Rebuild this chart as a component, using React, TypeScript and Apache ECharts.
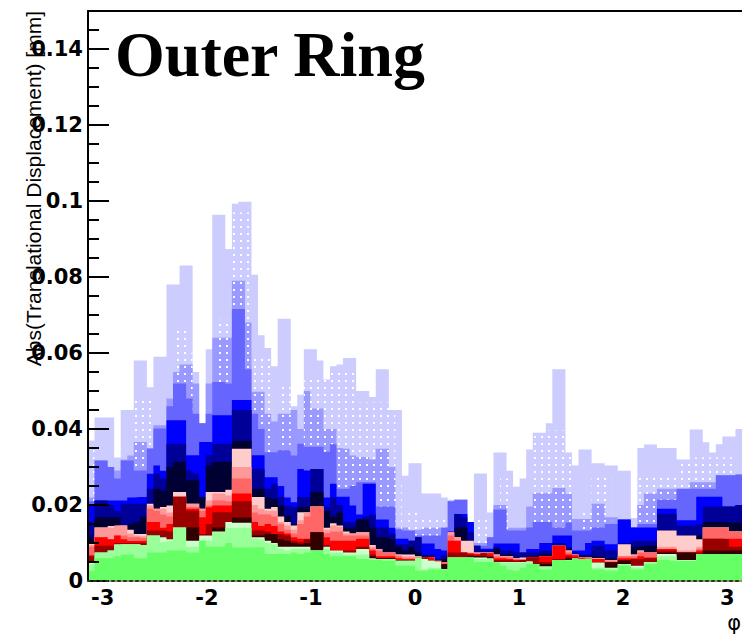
import React, { useEffect, useRef } from "react";
import * as echarts from "echarts";

// phi binning of the histograms: 100 bins over [-pi, pi]
const PHI_MIN = -Math.PI;
const PHI_MAX = Math.PI;
const N_BINS = 100;
const binEdges = Array.from({ length: N_BINS + 1 }, (_, i) => PHI_MIN + (i * (PHI_MAX - PHI_MIN)) / N_BINS);

const xTickValues = [-3, -2, -1, 0, 1, 2, 3];
const yMax = 0.15;
const yMajorStep = 0.02;
const yMinorStep = 0.005;
const titleText = "Outer Ring";
const yTitleText = "Abs(Translational Displacement) [mm]";
const xTitleText = "φ";

// Histogram contents (mm), back to front
const lavender = [0.037,0.043,0.043,0.043,0.0325,0.045,0.045,0.058,0.058,0.051,
0.059,0.059,0.078,0.078,0.083,0.083,0.055,0.0415,0.061,0.0964,
0.0964,0.0874,0.0993,0.0998,0.0998,0.0806,0.0647,0.0613,0.0565,0.069,
0.069,0.046,0.049,0.061,0.061,0.058,0.053,0.0565,0.057,0.0587,
0.0587,0.05,0.05,0.0484,0.0557,0.0557,0.045,0.045,0.0277,0.031,
0.031,0.023,0.023,0.023,0.022,0.0214,0.0214,0.0214,0.0155,0.0283,
0.0283,0.018,0.0338,0.0338,0.029,0.0248,0.027,0.0346,0.039,0.039,
0.0415,0.0557,0.0557,0.0338,0.0304,0.0346,0.0346,0.031,0.031,0.0304,
0.0304,0.029,0.029,0.0166,0.035,0.0359,0.0359,0.035,0.035,0.035,
0.032,0.032,0.0399,0.0399,0.0365,0.0338,0.036,0.038,0.038,0.04];

const periwinkle = [0.022,0.0317,0.0317,0.03,0.0291,0.032,0.033,0.0366,0.0366,0.035,
0.041,0.041,0.048,0.055,0.057,0.057,0.052,0.0415,0.052,0.064,
0.064,0.064,0.079,0.079,0.068,0.0498,0.0498,0.044,0.042,0.044,
0.044,0.045,0.04,0.05,0.0454,0.0454,0.04,0.04,0.035,0.0348,
0.033,0.0326,0.0326,0.032,0.0348,0.0348,0.03,0.0141,0.0141,0.0133,
0.0135,0.014,0.014,0.014,0.0141,0.021,0.0214,0.0214,0.0155,0.01,
0.01,0.0115,0.02,0.02,0.014,0.014,0.014,0.0196,0.0231,0.0231,
0.0231,0.0245,0.0245,0.0229,0.0163,0.0163,0.0163,0.0203,0.0203,0.0168,
0.0168,0.0162,0.0162,0.0141,0.02,0.023,0.023,0.0243,0.0243,0.0243,
0.0243,0.0243,0.026,0.026,0.026,0.026,0.0278,0.0278,0.0278,0.028];

const dotted = [0.035,0,0,0,0,0,0,0.048,0.048,0.048,
0,0,0,0.066,0.066,0.06,0,0,0,0,
0.069,0.069,0.097,0.097,0.097,0.059,0.059,0.059,0,0.051,
0.051,0,0,0.053,0.053,0.053,0.055,0.055,0.055,0.055,
0.055,0.047,0.047,0.047,0.047,0.047,0.047,0.026,0,0.019,
0.019,0.017,0.017,0.017,0.017,0.017,0,0,0,0.0166,
0.0166,0,0,0.027,0.027,0,0,0,0.0396,0.0396,
0.0396,0.0396,0.0396,0.0396,0,0.0185,0.0185,0.0277,0.0277,0.0277,
0,0,0,0,0.0277,0.0277,0.0277,0.028,0.028,0.028,
0.0325,0.0325,0.0325,0.0325,0.0325,0.0325,0.0325,0.0325,0.0325,0];

const slate = [0.021,0.0317,0.0317,0.03,0.027,0.0317,0.0317,0.0291,0.0291,0.0348,
0.0401,0.0401,0.046,0.052,0.052,0.048,0.044,0.0415,0.044,0.0524,
0.0524,0.052,0.0716,0.0716,0.0557,0.044,0.04,0.0339,0.0339,0.0344,
0.0344,0.033,0.0361,0.0353,0.0353,0.0353,0.034,0.036,0.0243,0.0243,
0.025,0.026,0.026,0.026,0.0196,0.0196,0.0196,0.0136,0.0133,0.0133,
0.012,0.012,0.012,0.012,0.0141,0.021,0.0214,0.0214,0.0155,0.0093,
0.0093,0.0115,0.0188,0.0188,0.0133,0.0133,0.0133,0.0141,0.0155,0.0155,
0.0155,0.0141,0.0141,0.0154,0.0133,0.0133,0.0133,0.0141,0.0141,0.015,
0.015,0.0162,0.0162,0.0141,0.015,0.015,0.015,0.0214,0.0214,0.0214,
0.0243,0.0243,0.0243,0.0243,0.0243,0.0243,0.0278,0.0278,0.0278,0.028];

const blue = [0.02,0.0212,0.0212,0.0212,0.0212,0.0212,0.022,0.0221,0.0221,0.0282,
0.0304,0.029,0.0423,0.0423,0.0423,0.0331,0.0331,0.0366,0.0366,0.0436,
0.0436,0.0436,0.0476,0.0476,0.0476,0.0331,0.0331,0.0273,0.0273,0.025,
0.022,0.0207,0.0295,0.0291,0.0295,0.0295,0.022,0.0256,0.0222,0.0222,
0.0199,0.0175,0.0256,0.0256,0.0162,0.0162,0.014,0.0111,0.0111,0.0106,
0.0115,0.0099,0.0099,0.0084,0.008,0.013,0.0176,0.0176,0.0155,0.0093,
0.0085,0.0085,0.0099,0.0099,0.0099,0.0099,0.0075,0.0084,0.0084,0.01,
0.01,0.012,0.012,0.012,0.008,0.008,0.01,0.0106,0.0106,0.0097,
0.0097,0.0162,0.0162,0.0141,0.0141,0.0141,0.0141,0.019,0.019,0.019,
0.016,0.016,0.016,0.0222,0.0222,0.0222,0.0222,0.0196,0.0196,0.02];

const navy = [0.0155,0.0212,0.0212,0.02,0.0185,0.0203,0.0203,0.0203,0.0203,0.0243,
0.0282,0.027,0.0361,0.0361,0.0361,0.0291,0.0282,0.0221,0.0331,0.0361,
0.0361,0.0361,0.045,0.045,0.045,0.0295,0.0295,0.0243,0.0256,0.0221,
0.0199,0.0194,0.0221,0.0221,0.0295,0.0295,0.0195,0.022,0.02,0.0155,
0.0155,0.0163,0.017,0.0175,0.0141,0.0141,0.0125,0.0097,0.0097,0.0106,
0.0115,0.007,0.007,0.006,0.007,0.012,0.0176,0.0168,0.0128,0.0093,
0.008,0.008,0.009,0.008,0.008,0.0075,0.0075,0.0075,0.0075,0.008,
0.008,0.01,0.01,0.009,0.0075,0.007,0.007,0.0093,0.0093,0.008,
0.008,0.01,0.01,0.0106,0.0106,0.0106,0.0106,0.0177,0.0177,0.0177,
0.0146,0.0146,0.0146,0.015,0.0196,0.0196,0.0196,0.0196,0.0196,0.02];

const midnight = [0.0115,0.0168,0.0168,0.0168,0.0168,0.0146,0.015,0.0155,0.017,0.0203,
0.0243,0.0238,0.03,0.0313,0.0313,0.0265,0.0265,0.0221,0.0304,0.0313,
0.0313,0.0313,0.0369,0.0369,0.0369,0.0243,0.0243,0.022,0.0215,0.0199,
0.0172,0.015,0.0195,0.0195,0.0234,0.0234,0.0184,0.017,0.018,0.014,
0.014,0.0162,0.0162,0.014,0.0115,0.0115,0.011,0.009,0.008,0.009,
0.0075,0.0065,0.0065,0.0055,0.0058,0.011,0.0141,0.0141,0.0106,0.0075,
0.0075,0.0075,0.0085,0.007,0.007,0.0062,0.0062,0.0065,0.0065,0.007,
0.007,0.0095,0.0095,0.0085,0.007,0.0065,0.0065,0.0065,0.0065,0.006,
0.006,0.0097,0.0097,0.009,0.009,0.0093,0.0093,0.0133,0.0133,0.0133,
0.012,0.012,0.012,0.012,0.0155,0.0155,0.0155,0.0154,0.0154,0.0154];

const pink = [0.01,0.0141,0.0141,0.0145,0.0146,0.0146,0.0135,0.0124,0.0124,0.0203,
0.019,0.0195,0.0199,0.0234,0.0234,0.0203,0.0203,0.019,0.0234,0.0234,
0.0234,0.024,0.0348,0.0348,0.0348,0.0221,0.0221,0.019,0.0195,0.017,
0.0155,0.0146,0.0181,0.0181,0.0196,0.0196,0.014,0.0152,0.0146,0.013,
0.0125,0.0128,0.0128,0.0095,0.0084,0.0075,0.0075,0.007,0.007,0.007,
0.0065,0.0063,0.0063,0.0054,0.005,0.0128,0.0115,0.0106,0.0106,0.0075,
0.0075,0.0075,0.007,0.0065,0.0065,0.006,0.0062,0.0063,0.0063,0.0065,
0.0065,0.0093,0.0093,0.008,0.007,0.0063,0.0063,0.006,0.006,0.0055,
0.0055,0.0097,0.0097,0.007,0.008,0.0075,0.0075,0.0133,0.0133,0.0133,
0.012,0.012,0.012,0.011,0.0141,0.0141,0.0141,0.0141,0.013,0.013];

const salmon = [0.0095,0.0141,0.0141,0.014,0.0146,0.0146,0.0125,0.012,0.0118,0.0199,
0.019,0.019,0.018,0.0222,0.0222,0.0203,0.0203,0.019,0.0212,0.023,
0.023,0.0225,0.03,0.03,0.03,0.02,0.019,0.0185,0.0185,0.0155,
0.0146,0.0135,0.016,0.018,0.0196,0.0196,0.0135,0.0146,0.0143,0.0125,
0.0125,0.0128,0.0128,0.009,0.0084,0.0075,0.0075,0.007,0.0065,0.0065,
0.0065,0.0063,0.0063,0.0054,0.005,0.0128,0.0115,0.0075,0.0075,0.0075,
0.0075,0.0075,0.007,0.0065,0.0065,0.006,0.0058,0.0063,0.0063,0.0065,
0.0065,0.0093,0.0093,0.008,0.007,0.0063,0.0063,0.006,0.006,0.0055,
0.0055,0.0065,0.0065,0.007,0.008,0.0075,0.0075,0.009,0.009,0.009,
0.008,0.008,0.008,0.009,0.0141,0.0141,0.0141,0.0141,0.013,0.013];

const coral = [0.009,0.0115,0.0115,0.011,0.012,0.012,0.0115,0.0115,0.0113,0.019,
0.0185,0.0175,0.017,0.0222,0.0222,0.0195,0.0195,0.0185,0.0199,0.0212,
0.0212,0.021,0.027,0.027,0.027,0.018,0.0175,0.0175,0.017,0.015,
0.0135,0.0125,0.015,0.017,0.0196,0.0196,0.0126,0.013,0.013,0.012,
0.012,0.012,0.012,0.0085,0.008,0.0075,0.0075,0.0065,0.006,0.006,
0.0063,0.0063,0.0063,0.0054,0.005,0.012,0.0106,0.0075,0.0073,0.0072,
0.0073,0.0073,0.0065,0.0063,0.0062,0.0058,0.0058,0.0063,0.0063,0.0065,
0.0065,0.0093,0.0093,0.0075,0.0068,0.0063,0.0063,0.0058,0.0058,0.0052,
0.0052,0.0065,0.0065,0.0065,0.0075,0.0075,0.0075,0.0085,0.0085,0.0085,
0.0075,0.0075,0.0075,0.0085,0.0141,0.0141,0.0141,0.0141,0.013,0.013];

const red = [0.0068,0.0115,0.0115,0.011,0.012,0.011,0.0105,0.0105,0.0106,0.0155,
0.0155,0.014,0.015,0.0222,0.0222,0.019,0.019,0.0168,0.0194,0.0199,
0.0199,0.0199,0.023,0.023,0.023,0.0155,0.0145,0.015,0.0145,0.013,
0.0125,0.0115,0.0111,0.0111,0.0128,0.0128,0.0115,0.0106,0.0106,0.0106,
0.0106,0.0111,0.0111,0.008,0.0065,0.0065,0.0065,0.006,0.0058,0.0058,
0.0062,0.0063,0.0062,0.0054,0.0045,0.0106,0.0106,0.0075,0.0073,0.0071,
0.0073,0.0073,0.006,0.006,0.0058,0.0055,0.0055,0.0063,0.0063,0.0065,
0.0065,0.0093,0.0093,0.007,0.0068,0.006,0.0058,0.0058,0.0058,0.005,
0.005,0.006,0.006,0.006,0.0065,0.0062,0.0062,0.0084,0.0084,0.0084,
0.0075,0.0075,0.0075,0.008,0.0111,0.0111,0.0111,0.0111,0.0111,0.0111];

const darkRed = [0.0065,0.0093,0.0093,0.0093,0.01,0.01,0.01,0.01,0.01,0.0133,
0.0133,0.0133,0.013,0.0222,0.0222,0.0185,0.0185,0.0124,0.015,0.0181,
0.0181,0.0181,0.021,0.021,0.021,0.0133,0.0133,0.013,0.0124,0.0124,
0.012,0.0106,0.0102,0.011,0.0128,0.0128,0.0095,0.008,0.008,0.008,
0.008,0.009,0.009,0.007,0.006,0.006,0.006,0.0055,0.0055,0.0055,
0.0062,0.0062,0.0054,0.0054,0.0045,0.0075,0.0075,0.0075,0.007,0.0067,
0.0073,0.0065,0.0055,0.0055,0.0055,0.0053,0.0055,0.0062,0.0062,0.005,
0.005,0.0058,0.0058,0.0065,0.0062,0.0058,0.0058,0.005,0.0049,0.005,
0.005,0.0055,0.0055,0.0058,0.0058,0.006,0.006,0.008,0.008,0.008,
0.0075,0.0075,0.0075,0.0075,0.0111,0.0111,0.0111,0.011,0.009,0.009];

const maroon = [0.005,0.0075,0.0075,0.008,0.0097,0.0097,0.0097,0.0097,0.0095,0.012,
0.012,0.0115,0.011,0.0141,0.0141,0.0141,0.0141,0.012,0.012,0.0141,
0.0141,0.0155,0.0167,0.0167,0.0167,0.012,0.012,0.0124,0.0124,0.011,
0.0106,0.01,0.0097,0.01,0.0128,0.0128,0.009,0.007,0.007,0.007,
0.0075,0.0085,0.0085,0.0065,0.006,0.006,0.006,0.0055,0.0055,0.0053,
0.0062,0.0058,0.0054,0.0052,0.0044,0.0062,0.0062,0.0062,0.0065,0.0065,
0.0064,0.0063,0.005,0.0046,0.005,0.005,0.005,0.0052,0.0045,0.0045,
0.0045,0.0055,0.0055,0.006,0.006,0.0058,0.0058,0.0046,0.0049,0.0049,
0.0049,0.0054,0.0054,0.004,0.004,0.005,0.005,0.0075,0.0075,0.0075,
0.0075,0.0075,0.0075,0.007,0.008,0.008,0.008,0.008,0.008,0.008];

const mint = [0.005,0.0075,0.0075,0.008,0.0097,0.0097,0.0097,0.0097,0.0095,0.012,
0.012,0.0115,0.011,0.0141,0.0141,0.0106,0.0106,0.012,0.012,0.013,
0.013,0.0155,0.0153,0.0153,0.0153,0.0115,0.0115,0.0106,0.01,0.009,
0.009,0.009,0.009,0.009,0.008,0.008,0.009,0.008,0.008,0.0075,
0.0075,0.0084,0.0084,0.006,0.0058,0.0058,0.0058,0.0053,0.0053,0.0053,
0.0062,0.0058,0.0054,0.0052,0.0031,0.0062,0.0062,0.0062,0.0062,0.0062,
0.0062,0.006,0.005,0.005,0.005,0.005,0.005,0.0052,0.0045,0.0038,
0.0038,0.0055,0.0055,0.0055,0.006,0.0058,0.0058,0.0049,0.0049,0.0035,
0.0035,0.0045,0.0045,0.004,0.004,0.005,0.005,0.0071,0.0071,0.0071,
0.0055,0.0055,0.0055,0.0071,0.0071,0.0071,0.0071,0.0071,0.0071,0.0071];

const lightGreen = [0.0045,0.0075,0.0075,0.008,0.0095,0.0097,0.0097,0.0097,0.0095,0.012,
0.012,0.0102,0.0106,0.0141,0.0141,0.009,0.009,0.0106,0.0106,0.0128,
0.0128,0.014,0.014,0.014,0.014,0.0112,0.011,0.01,0.0097,0.0085,
0.008,0.0085,0.0085,0.0085,0.008,0.008,0.0085,0.0075,0.0075,0.007,
0.007,0.007,0.007,0.0058,0.0058,0.0058,0.0058,0.0053,0.0053,0.0053,
0.0062,0.0031,0.0035,0.0035,0.0031,0.0062,0.0062,0.0062,0.0062,0.0058,
0.0058,0.0058,0.0049,0.0049,0.0049,0.0049,0.0049,0.005,0.0045,0.0038,
0.0038,0.0055,0.0055,0.0055,0.0058,0.0058,0.0058,0.0035,0.0035,0.0033,
0.0033,0.0045,0.0045,0.0035,0.0035,0.005,0.005,0.0065,0.0065,0.0065,
0.0053,0.0053,0.0053,0.0071,0.0071,0.0071,0.0071,0.0071,0.0071,0.0071];

const green = [0.0027,0.006,0.006,0.006,0.0065,0.007,0.007,0.006,0.006,0.0075,
0.0075,0.0075,0.008,0.008,0.008,0.0075,0.0075,0.0106,0.009,0.009,
0.009,0.01,0.0088,0.0088,0.0088,0.0089,0.0089,0.0071,0.0071,0.0071,
0.0071,0.0075,0.0071,0.0075,0.008,0.008,0.0071,0.0065,0.0065,0.0065,
0.0065,0.0058,0.0058,0.0055,0.0055,0.0053,0.0053,0.004,0.004,0.004,
0.0027,0.0027,0.003,0.003,0.003,0.0062,0.0062,0.0062,0.0062,0.005,
0.005,0.005,0.0049,0.004,0.003,0.0027,0.0035,0.0045,0.0045,0.003,
0.003,0.0055,0.0055,0.0053,0.0058,0.0058,0.0058,0.003,0.003,0.0027,
0.0027,0.004,0.004,0.003,0.003,0.0045,0.0045,0.0055,0.0055,0.0053,
0.0053,0.0053,0.0053,0.0071,0.0071,0.0071,0.0071,0.0071,0.0071,0.0071];

const layers = [
  { name: "lavender", color: "#ccccff", values: lavender },
  { name: "periwinkle", color: "#9999ff", values: periwinkle },
  { name: "dotted", color: "pattern", values: dotted },
  { name: "slate", color: "#6666ff", values: slate },
  { name: "blue", color: "#0000ff", values: blue },
  { name: "navy", color: "#000099", values: navy },
  { name: "midnight", color: "#000033", values: midnight },
  { name: "pink", color: "#ffcccc", values: pink },
  { name: "salmon", color: "#ff9999", values: salmon },
  { name: "coral", color: "#ff6666", values: coral },
  { name: "red", color: "#ff0000", values: red },
  { name: "darkRed", color: "#990000", values: darkRed },
  { name: "maroon", color: "#330000", values: maroon },
  { name: "mint", color: "#ccffcc", values: mint },
  { name: "lightGreen", color: "#99ff99", values: lightGreen },
  { name: "green", color: "#66ff66", values: green },
];

function histData(values: number[]) {
  const pts: number[][] = values.map((v, i) => [binEdges[i], v]);
  pts.push([binEdges[N_BINS], values[N_BINS - 1]]);
  return pts;
}

export default function App() {
  const ref = useRef<HTMLDivElement>(null);

  useEffect(() => {
    if (!ref.current) return;
    const chart = echarts.init(ref.current, null, { renderer: "svg" });

    const tile = document.createElement("canvas");
    tile.width = 7;
    tile.height = 7;
    const ctx = tile.getContext("2d");
    if (ctx) {
      ctx.fillStyle = "#ffffff";
      ctx.fillRect(2, 2, 2, 2);
    }

    const tickFont = { color: "#000", fontFamily: "DejaVu Sans", fontWeight: "bold" as const, fontSize: 21 };

    const series = layers.map((l) => ({
      name: l.name,
      type: "line",
      step: "end",
      data: histData(l.values),
      xAxisIndex: 0,
      yAxisIndex: 0,
      symbol: "none",
      showSymbol: false,
      silent: true,
      z: 2,
      lineStyle: { width: 0, opacity: 0 },
      areaStyle:
        l.color === "pattern"
          ? { color: { image: tile, repeat: "repeat" }, opacity: 1 }
          : { color: l.color, opacity: 1 },
      emphasis: { disabled: true },
      animation: false,
    }));

    chart.setOption({
      animation: false,
      backgroundColor: "#ffffff",
      grid: { left: 88, top: 11, width: 659, height: 570, containLabel: false },
      xAxis: [
        {
          type: "value",
          min: PHI_MIN,
          max: PHI_MAX,
          position: "bottom",
          axisLine: { show: true, onZero: false, lineStyle: { color: "#8f9b68", width: 2 } },
          axisTick: { show: false },
          splitLine: { show: false },
          axisLabel: {
            show: true,
            customValues: xTickValues,
            margin: 6,
            ...tickFont,
            formatter: (v: number) => String(Math.round(v)),
          },
          z: 10,
        },
        {
          type: "value",
          min: PHI_MIN,
          max: PHI_MAX,
          position: "top",
          axisLine: { show: true, onZero: false, lineStyle: { color: "#000", width: 2 } },
          axisTick: { show: false },
          axisLabel: { show: false },
          splitLine: { show: false },
          z: 10,
        },
        {
          type: "value",
          min: PHI_MIN,
          max: PHI_MAX,
          position: "bottom",
          axisLine: { show: true, onZero: false, lineStyle: { color: "#1c3c1c", width: 2, type: [2, 4] } },
          axisTick: { show: false },
          axisLabel: { show: false },
          splitLine: { show: false },
          z: 11,
        },
      ],
      yAxis: [
        {
          type: "value",
          min: 0,
          max: yMax,
          interval: yMajorStep,
          position: "left",
          axisLine: { show: true, onZero: false, lineStyle: { color: "#000", width: 2 } },
          axisTick: { show: true, inside: true, length: 21, lineStyle: { color: "#000", width: 2 } },
          axisLabel: { show: true, margin: 5, showMaxLabel: false, ...tickFont },
          splitLine: { show: false },
          z: 10,
        },
        {
          type: "value",
          min: 0,
          max: yMax,
          interval: yMinorStep,
          position: "left",
          offset: 0,
          axisLine: { show: false, onZero: false },
          axisTick: { show: true, inside: true, length: 11, lineStyle: { color: "#000", width: 2 } },
          axisLabel: { show: false },
          splitLine: { show: false },
          z: 10,
        },
      ],
      series,
      graphic: [
        {
          type: "text",
          x: 115,
          y: 54,
          z: 100,
          style: {
            text: titleText,
            font: 'bold 64px "Liberation Serif"',
            fill: "#000",
            align: "left",
            verticalAlign: "middle",
          },
        },
        {
          type: "text",
          x: 33,
          y: 11,
          rotation: Math.PI / 2,
          z: 100,
          style: {
            text: yTitleText,
            font: '21px "Liberation Sans"',
            fill: "#000",
            align: "right",
            verticalAlign: "middle",
          },
        },
        {
          type: "text",
          x: 741,
          y: 623,
          z: 100,
          style: {
            text: xTitleText,
            font: '21px "DejaVu Sans"',
            fill: "#000",
            align: "right",
            verticalAlign: "middle",
          },
        },
      ],
    });

    return () => chart.dispose();
  }, []);

  return (
    <div
      ref={ref}
      style={{ position: "fixed", left: 0, top: 0, width: 742, height: 635, background: "#ffffff" }}
    />
  );
}
